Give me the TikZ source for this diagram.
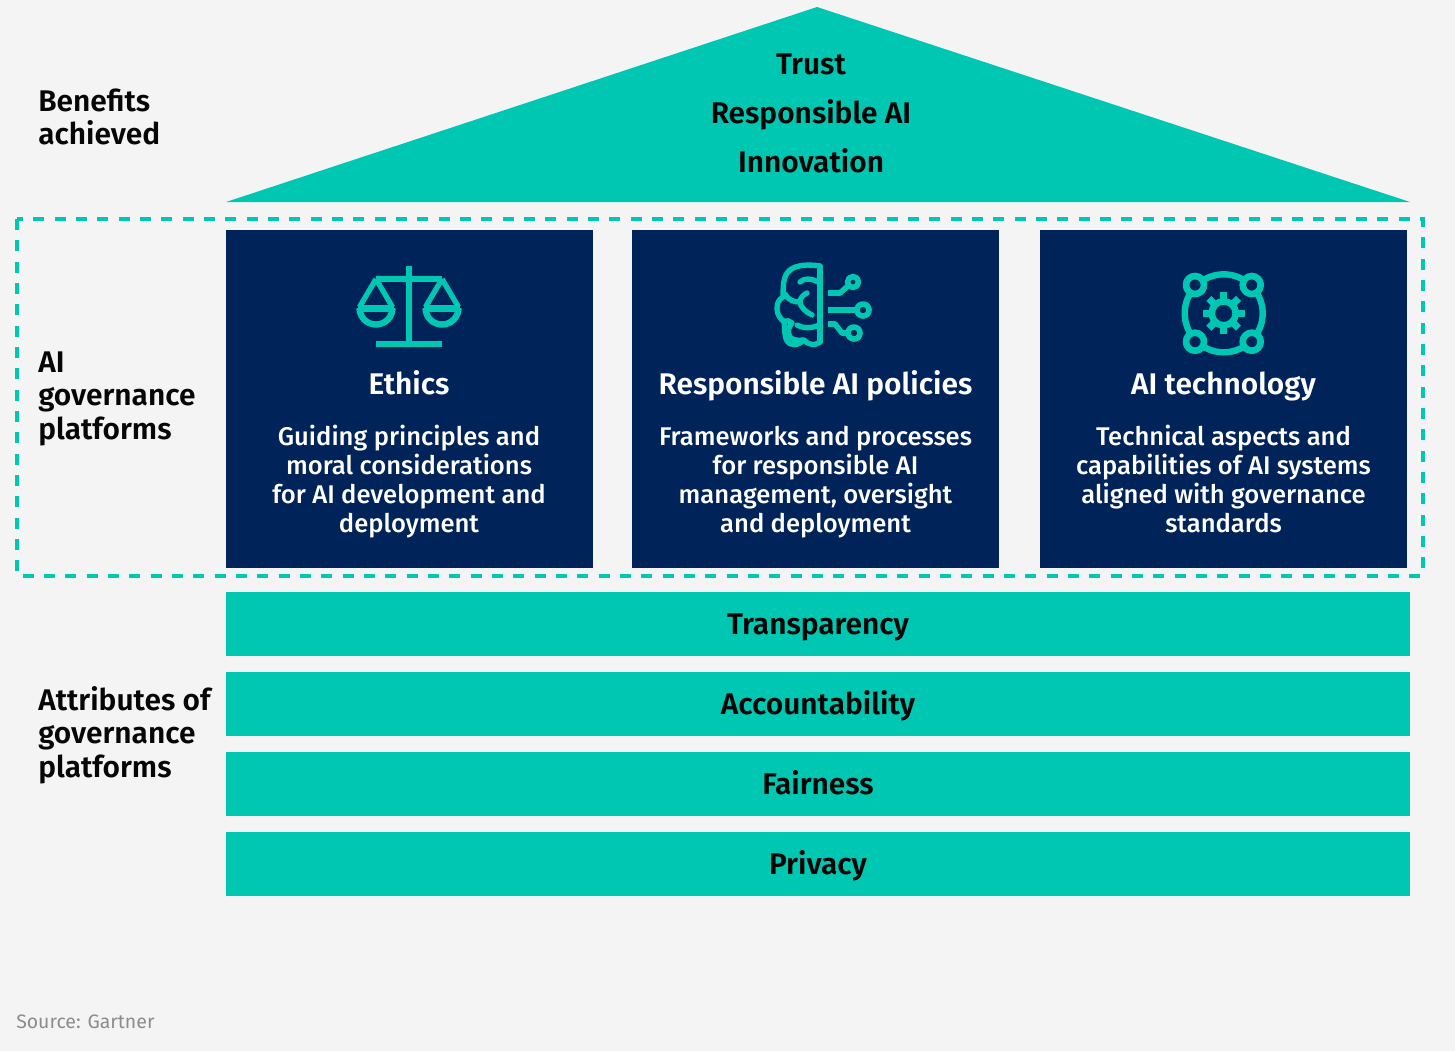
\documentclass[tikz,border=0pt]{standalone}
\usepackage{fontspec}
\setmainfont{Fira Sans}[UprightFont=* Medium,BoldFont=* SemiBold]
\newfontfamily\srcfont{Fira Sans}
\definecolor{bgc}{HTML}{F4F4F4}
\definecolor{teal}{HTML}{00C7B1}
\definecolor{navy}{HTML}{00235A}
\definecolor{ink}{HTML}{060606}
\definecolor{srcgrey}{HTML}{8C8C8C}
\tikzset{
 bar/.style={fill=teal,draw=none,minimum width=888pt,minimum height=48pt,inner sep=0pt},
 bartext/.style={anchor=base,inner sep=0pt,text=ink,font=\fontsize{22.4}{25}\selectfont\bfseries},
 card/.style={fill=navy,draw=none,minimum width=275.25pt,minimum height=253.5pt,inner sep=0pt},
 side/.style={anchor=base west,align=left,inner sep=0pt,text=ink,font=\fontsize{22.4}{25.1}\selectfont\bfseries},
 ctitle/.style={anchor=base,text=white,inner sep=0pt,font=\fontsize{22.4}{25}\selectfont\bfseries},
 cbody/.style={anchor=base,text=white,inner sep=0pt,align=center,font=\fontsize{19.2}{21.75}\selectfont},
 roofline/.style={anchor=base,text=ink,inner sep=0pt,font=\fontsize{22.4}{25}\selectfont\bfseries},
 icon/.style={draw=teal,line width=4.8pt,line join=round},
}
\begin{document}
\begin{tikzpicture}[x=0.75pt,y=-0.75pt]
\useasboundingbox[fill=bgc] (0,0) rectangle (1455,1051);
% roof
\fill[teal] (817,7) -- (1410,202) -- (226,202) -- cycle;
\node[roofline] (r1) at (811,74.5) {Trust};
\node[roofline] (r2) at (811,123.5) {Responsible AI};
\node[roofline] (r3) at (811,172.5) {Innovation};
% dashed frame
\draw[teal,line width=3.4pt,dash pattern=on 8.25pt off 7.75pt] (17,219) rectangle (1423,576);
% cards
\node[card] (c1) at (409.5,399) {};
\node[card] (c2) at (815.5,399) {};
\node[card] (c3) at (1223.5,399) {};
\node[ctitle] (t1) at (409,394.5) {Ethics};
\node[ctitle] (t2) at (815.5,394.5) {Responsible AI policies};
\node[ctitle] (t3) at (1223.5,394.5) {AI technology};
\node[cbody] (b1) at (409,532) {Guiding principles and\\moral considerations\\for AI development and\\deployment};
\node[cbody] (b2) at (815.5,532) {Frameworks and processes\\for responsible AI\\management, oversight\\and deployment};
\node[cbody] (b3) at (1223.5,532) {Technical aspects and\\capabilities of AI systems\\aligned with governance\\standards};
% bars
\node[bar] (p1) at (818,624) {};
\node[bar] (p2) at (818,704) {};
\node[bar] (p3) at (818,784) {};
\node[bar] (p4) at (818,864) {};
\node[bartext] (pt1) at (818,634.5) {Transparency};
\node[bartext] (pt2) at (818,714.5) {Accountability};
\node[bartext] (pt3) at (818,794.5) {Fairness};
\node[bartext] (pt4) at (818,874.5) {Privacy};
% side labels
\node[side] (s1) at (38,144.5) {Benefits\\achieved};
\node[side] (s2) at (38,439) {AI\\governance\\platforms};
\node[side] (s3) at (38,777) {Attributes of\\governance\\platforms};
\node[anchor=base west,inner sep=0pt,text=srcgrey,font=\srcfont\fontsize{14.6}{16}\selectfont] (src) at (16,1028) {Source: Gartner};
% scales icon
\begin{scope}[icon]
 \draw[line width=5pt] (409,266) -- (409,344);
 \draw[line width=5pt] (376,344) -- (442,344);
 \draw (376,279) -- (442,279);
 \foreach \cx in {376,442}{
  \draw[line width=4pt] (\cx,279) -- (\cx-16.5,307);
  \draw[line width=4pt] (\cx,279) -- (\cx+16.5,307);
  \draw (\cx-18,308.5) -- (\cx+18,308.5);
  \draw (\cx-16.5,308) arc[start angle=180,end angle=0,radius=16.5,y=-1];
 }
\end{scope}
% brain icon
\begin{scope}[icon,line width=4pt,line cap=round]
 \draw (820,266) -- (820,342);
 \draw (820,266) .. controls (808,264) and (796,265) .. (790,270)
   .. controls (784,275) and (783,282) .. (783,297)
   .. controls (778,300) and (777,304) .. (777,309)
   .. controls (777,315) and (781,319) .. (784,322)
   .. controls (785,328) and (784,336) .. (787,341)
   .. controls (790,346) and (798,346) .. (804,340)
   .. controls (808,345) and (815,346) .. (820,342);
 \draw (800,282) .. controls (804,278) and (811,278) .. (818,282);
 \draw (807,293) .. controls (803,295) and (800,298) .. (800,302)
   .. controls (800,307) and (806,312) .. (812,315);
 \draw (785,294) .. controls (788,300) and (794,302) .. (800,302);
 \draw (797,325) .. controls (802,328) and (811,329) .. (819,325);
 \draw (784,321) .. controls (787,320) and (790,321) .. (792,323)
   .. controls (789,327) and (787,331) .. (789,335)
   .. controls (790,339) and (795,341) .. (803,340);
\end{scope}
\begin{scope}[icon,line width=4.2pt]
 \draw (828,293) -- (840,293) -- (849,285);
 \draw (853,282) circle[radius=5.5];
 \draw (828,310) -- (856,310);
 \draw (863,310) circle[radius=6];
 \draw (828,324) -- (835,324) -- (842,333) -- (847,333);
 \draw (854,333) circle[radius=6];
\end{scope}
% network gear icon
\begin{scope}[icon]
 \draw (1223.7,313.3) circle[radius=39];
 \foreach \px/\py in {1195/285,1251.7/285,1195/341.7,1251.7/341.7}{
  \filldraw[fill=navy,line width=5pt] (\px,\py) circle[radius=9];
 }
 \draw[line width=5pt] (1223.7,313.3) circle[radius=12];
 \foreach \a in {0,45,...,315}{
  \draw[line width=5.4pt] (1223.7,313.3) ++(\a:14) -- ++(\a:7);
 }
\end{scope}
\end{tikzpicture}
\end{document}
